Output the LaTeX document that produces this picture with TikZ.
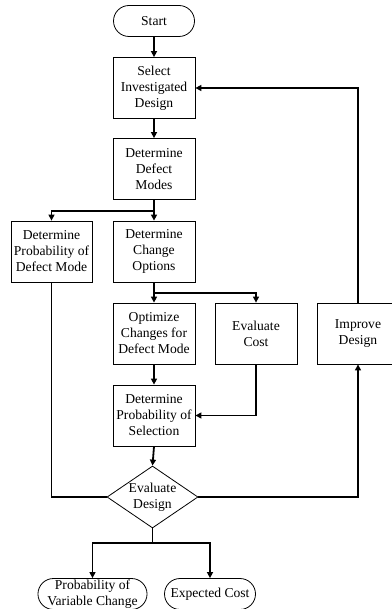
\documentclass[tikz,border=0pt]{standalone}
\usepackage{fontspec}
\setmainfont{Liberation Serif}
\usetikzlibrary{shapes.geometric,shapes.misc,arrows.meta}
\begin{document}
\begin{tikzpicture}[x=1pt,y=-1pt,
  txt/.style={font=\fontsize{13.6}{16}\selectfont,align=center},
  box/.style={txt,draw,line width=0.8pt,minimum width=82pt,minimum height=61pt,inner sep=0.5pt},
  term/.style={txt,draw,line width=0.8pt,rounded rectangle,minimum height=31pt,inner sep=0.5pt},
  dec/.style={txt,draw,line width=0.8pt,diamond,aspect=1.45,inner sep=0pt,minimum width=91pt,minimum height=62pt},
  arr/.style={line width=1.8pt,-{Triangle[length=6pt,width=6pt]}},
  arrt/.style={line width=1.2pt,-{Triangle[length=6pt,width=6pt]}},
  ln/.style={line width=1.2pt}]
\useasboundingbox (0,0) rectangle (391,609);
\node[term,minimum width=82pt] (start) at (154,21) {Start};
\node[box] (sel) at (154,88) {Select\\Investigated\\Design};
\node[box] (ddm) at (154,169) {Determine\\Defect\\Modes};
\node[box,minimum width=81pt] (dpd) at (51.5,251.5) {Determine\\Probability of\\Defect Mode};
\node[box] (dco) at (154,251.5) {Determine\\Change\\Options};
\node[box] (opt) at (154,333.5) {Optimize\\Changes for\\Defect Mode};
\node[box] (ec) at (256,333.5) {Evaluate\\Cost};
\node[box] (imp) at (358,333.5) {Improve\\Design};
\node[box] (dps) at (154,415.5) {Determine\\Probability of\\Selection};
\node[dec] (ed) at (152.5,497) {Evaluate\\Design};
\node[term,minimum width=97pt,inner xsep=0pt] (o1) at (92.5,594) {Probability of\\Variable Change};
\node[term,minimum width=92pt] (o2) at (210,594) {Expected Cost};
\coordinate (b1) at (154,211);
\coordinate (b2) at (154,293);
\coordinate (b3) at (152.5,543);
\coordinate (c1) at (240,88);
\draw[arr] (start) -- (sel);
\draw[arr] (sel) -- (ddm);
\draw[arr] (ddm.south) -- (dco.north);
\draw[arrt] (b1) -| (dpd.north);
\draw[arr] (dco.south) -- (opt.north);
\draw[arrt] (b2) -| (ec.north);
\draw[arr] (opt) -- (dps);
\draw[arrt] (ec.south) |- (dps.east);
\draw[arr] (dps.south) -- (ed.north);
\draw[ln] (dpd.south) |- (ed.west);
\draw[arrt] (ed.east) -| (imp.south);
\draw[ln] (imp.north) |- (c1);
\draw[arr] (c1) -- (sel.east);
\draw[ln] (ed.south) -- (b3);
\draw[arrt] (b3) -| (o1.north);
\draw[arr] (b3) -| (o2.north);
\end{tikzpicture}
\end{document}
